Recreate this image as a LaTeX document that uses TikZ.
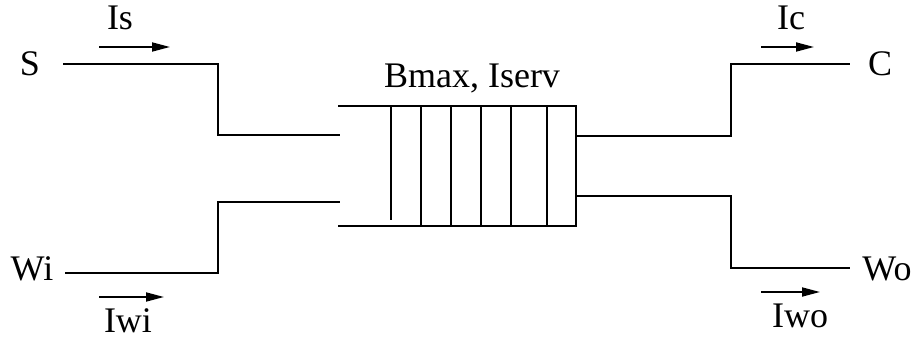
\documentclass[tikz,border=0pt]{standalone}
\usepackage{fontspec}
\setmainfont{Liberation Serif}
\usetikzlibrary{arrows.meta}
\begin{document}
\begin{tikzpicture}[x=1pt,y=-1pt,line width=1.8pt,
  lbl/.style={anchor=base,inner sep=0pt,font=\fontsize{36}{42}\selectfont},
  flow/.style={-{Triangle[length=18pt,width=9pt]},line width=1.8pt},
  wire/.style={line width=1.8pt}]
\useasboundingbox (0,0) rectangle (917,339);
% terminal labels
\node[lbl] (S) at (30,76) {S};
\node[lbl] (Wi) at (32,280) {Wi};
\node[lbl] (C) at (880,76) {C};
\node[lbl] (Wo) at (887,280) {Wo};
\node[lbl] (Is) at (120,30) {Is};
\node[lbl] (Iwi) at (128,332) {Iwi};
\node[lbl] (Ic) at (791,30) {Ic};
\node[lbl] (Iwo) at (800,327) {Iwo};
\node[lbl] (B) at (472,88) {Bmax, Iserv};
% coordinates
\coordinate (s0) at (63,64);
\coordinate (w0) at (65,273);
\coordinate (bin1) at (340,135);
\coordinate (bin2) at (340,202);
\coordinate (bout1) at (576,136);
\coordinate (bout2) at (576,196);
\coordinate (c0) at (850,64);
\coordinate (wo0) at (850,268);
% buffer
\draw[wire] (338,106) -- (576,106) -- (576,226) -- (338,226);
\foreach \x in {421,451,481,511,547} \draw[wire] (\x,106) -- (\x,226);
\draw[wire] (391,106) -- (391,220);
% wires
\draw[wire] (s0) -- (218,64) -- (218,135) -- (bin1);
\draw[wire] (w0) -- (218,273) -- (218,202) -- (bin2);
\draw[wire] (bout1) -- (731,136) -- (731,64) -- (c0);
\draw[wire] (bout2) -- (731,196) -- (731,268) -- (wo0);
% flow arrows
\coordinate (a1) at (99,47); \coordinate (a2) at (170,47);
\coordinate (a3) at (99,297); \coordinate (a4) at (164,297);
\coordinate (a5) at (761,47); \coordinate (a6) at (814,47);
\coordinate (a7) at (761,292); \coordinate (a8) at (820,292);
\draw[flow] (a1) -- (a2);
\draw[flow] (a3) -- (a4);
\draw[flow] (a5) -- (a6);
\draw[flow] (a7) -- (a8);
\end{tikzpicture}
\end{document}
